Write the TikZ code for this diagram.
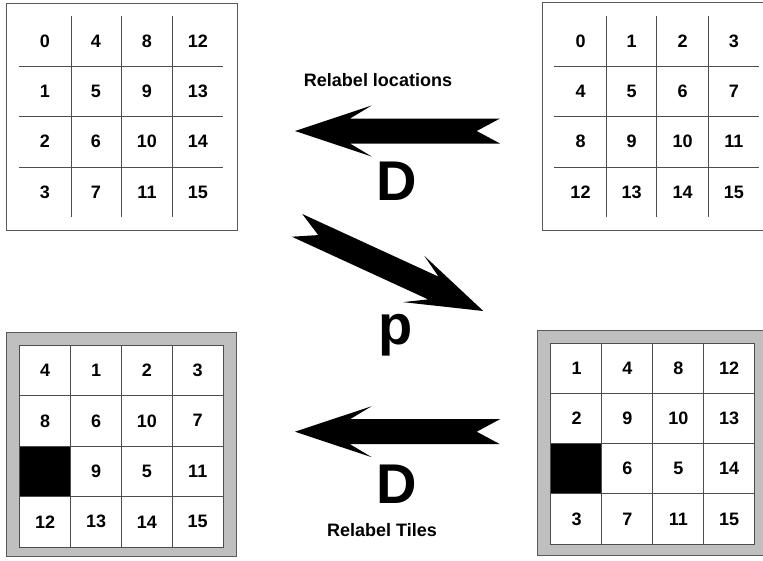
\documentclass[tikz,border=0pt]{standalone}
\usepackage{fontspec}
\setmainfont{Liberation Sans}
\usepackage{tikz}
\tikzstyle{every node}=[font=\fontsize{18}{20}\selectfont\bfseries]
\tikzstyle{frame}=[rectangle,
                   draw=black!65,
                   line width=1pt,
                   inner sep=0pt]
\tikzstyle{tray}=[frame,
                  fill=black!25]
\tikzstyle{gridline}=[draw=black!70,
                      line width=0.9pt]
\tikzstyle{tile}=[rectangle,
                  draw=black!70,
                  line width=0.9pt,
                  fill=white,
                  inner sep=0pt,
                  minimum width=51pt,
                  minimum height=50.4pt]
\tikzstyle{hole}=[tile,
                  fill=black]
\tikzstyle{opname}=[font=\fontsize{56}{60}\selectfont\bfseries,
                    anchor=base]
\tikzstyle{caption}=[anchor=base]
\tikzset{fatarrow/.pic={
  \fill[black] (0,0) -- (76.7,25.5) -- (55,12.5) -- (205,12.5) -- (181.7,0)
    -- (205,-12.5) -- (55,-12.5) -- (76.7,-25.5) -- cycle;}}

\begin{document}
\begin{tikzpicture}[x=1pt,y=-1pt]
\clip (0,0) rectangle (763,560);
% locations numbered down the columns
\node (colBoard) [frame,minimum width=230.3pt,minimum height=227pt] at (121.85,116.5) {};
\foreach \x in {71,121,172} \draw[gridline] (\x,16) -- (\x,217);
\foreach \y in {66,116,167} \draw[gridline] (19,\y) -- (223,\y);
\foreach \n [count=\i from 0] in {0,4,8,12,1,5,9,13,2,6,10,14,3,7,11,15} {
  \pgfmathtruncatemacro\c{mod(\i,4)}
  \pgfmathtruncatemacro\r{div(\i,4)}
  \node (colLoc\n) at ({45+51*\c},{41+50.3*\r}) {\n};
}
% locations numbered along the rows
\node (rowBoard) [frame,minimum width=231pt,minimum height=227.3pt] at (657.5,116.35) {};
\foreach \x in {606.7,656.7,708.3} \draw[gridline] (\x,16) -- (\x,217);
\foreach \y in {66,116,167} \draw[gridline] (554.3,\y) -- (759,\y);
\foreach \n [count=\i from 0] in {0,1,2,3,4,5,6,7,8,9,10,11,12,13,14,15} {
  \pgfmathtruncatemacro\c{mod(\i,4)}
  \pgfmathtruncatemacro\r{div(\i,4)}
  \node (rowLoc\n) at ({580.5+51.1*\c},{41+50.3*\r}) {\n};
}
% puzzle boards, 0 is the blank
\node (leftTray) [tray,minimum width=230.2pt,minimum height=223.3pt] at (121.6,444.35) {};
\foreach \n [count=\i from 0] in {4,1,2,3,8,6,10,7,0,9,5,11,12,13,14,15} {
  \pgfmathtruncatemacro\c{mod(\i,4)}
  \pgfmathtruncatemacro\r{div(\i,4)}
  \ifnum\n=0
    \node (leftTile\n) [hole] at ({45.2+50.85*\c},{370.3+50.5*\r}) {};
  \else
    \node (leftTile\n) [tile] at ({45.2+50.85*\c},{370.3+50.5*\r}) {\n};
  \fi
}
\node (rightTray) [tray,minimum width=235.7pt,minimum height=225.5pt] at (655.15,442.75) {};
\foreach \n [count=\i from 0] in {1,4,8,12,2,9,10,13,0,6,5,14,3,7,11,15} {
  \pgfmathtruncatemacro\c{mod(\i,4)}
  \pgfmathtruncatemacro\r{div(\i,4)}
  \ifnum\n=0
    \node (rightTile\n) [hole,minimum width=51.2pt] at ({576.5+50.9*\c},{368.3+50.2*\r}) {};
  \else
    \node (rightTile\n) [tile,minimum width=51.2pt] at ({576.5+50.9*\c},{368.3+50.2*\r}) {\n};
  \fi
}
% operators
\pic (relabelLocs) at (295,131) {fatarrow};
\pic[rotate=155.3] (perm) at (483.3,311) {fatarrow};
\pic (relabelTiles) at (295,431.7) {fatarrow};
\node (locsText) [caption] at (378,86) {Relabel locations};
\node (opTop) [opname] at (397,200) {D};
\node (opPerm) [opname] at (396,344) {p};
\node (opBottom) [opname] at (397,503) {D};
\node (tilesText) [caption] at (382,536.7) {Relabel Tiles};
\end{tikzpicture}
\end{document}
